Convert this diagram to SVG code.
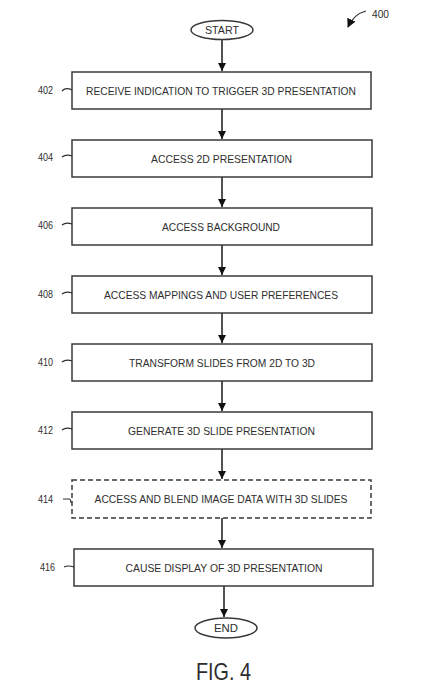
<svg xmlns="http://www.w3.org/2000/svg" width="433" height="700" viewBox="0 0 433 700">
<defs>
<style>
.box{fill:#fff;stroke:#3a3a3a;stroke-width:1.5}
.dash{fill:#fff;stroke:#3a3a3a;stroke-width:1.5;stroke-dasharray:5,3}
.t{font-family:"Liberation Sans",Arial,sans-serif;font-size:11px;fill:#2e2e2e;text-anchor:middle}
.n{font-family:"Liberation Sans",Arial,sans-serif;font-size:10.5px;fill:#2e2e2e}
.c{fill:none;stroke:#1a1a1a;stroke-width:1.5}
.l{fill:none;stroke:#2e2e2e;stroke-width:1.2}
</style>
<marker id="ah" viewBox="0 0 8 10" refX="8" refY="5" markerWidth="8" markerHeight="10" markerUnits="userSpaceOnUse" orient="auto">
<path d="M0,1 L8,5 L0,9 Z" fill="#111"/>
</marker>
<marker id="ah2" viewBox="0 0 10 10" refX="9" refY="5" markerWidth="9" markerHeight="9" markerUnits="userSpaceOnUse" orient="auto">
<path d="M0,0 L10,5 L0,10 Z" fill="#111"/>
</marker>
</defs>
<rect width="433" height="700" fill="#fff"/>

<g id="ref400">
<text class="n" x="372" y="18" textLength="17" lengthAdjust="spacingAndGlyphs">400</text>
<path class="l" d="M366,11 Q354,14 348,27" marker-end="url(#ah2)" stroke="#111" stroke-width="1.5"/>
</g>

<g id="connectors">
<path class="c" d="M222,39 V71" marker-end="url(#ah)"/>
<path class="c" d="M222,109 V139" marker-end="url(#ah)"/>
<path class="c" d="M222,177 V207" marker-end="url(#ah)"/>
<path class="c" d="M222,245 V275" marker-end="url(#ah)"/>
<path class="c" d="M222,313 V343" marker-end="url(#ah)"/>
<path class="c" d="M222,381 V411" marker-end="url(#ah)"/>
<path class="c" d="M222,449 V479" marker-end="url(#ah)"/>
<path class="c" d="M222,518 V548" marker-end="url(#ah)"/>
<path class="c" d="M224,586 V617" marker-end="url(#ah)"/>
</g>

<g id="start">
<ellipse class="box" cx="222" cy="30" rx="31" ry="9.5"/>
<text class="t" x="222" y="34" textLength="34" lengthAdjust="spacingAndGlyphs">START</text>
</g>

<g id="n402">
<rect class="box" x="72" y="72" width="299" height="37"/>
<text class="t" x="221" y="94.5" textLength="270" lengthAdjust="spacingAndGlyphs">RECEIVE INDICATION TO TRIGGER 3D PRESENTATION</text>
<text class="n" x="38" y="94" textLength="15" lengthAdjust="spacingAndGlyphs">402</text>
<path class="l" d="M62,91 Q66,87 72,90"/>
</g>

<g id="n404">
<rect class="box" x="72" y="140" width="300" height="37"/>
<text class="t" x="221.5" y="162.5" textLength="141" lengthAdjust="spacingAndGlyphs">ACCESS 2D PRESENTATION</text>
<text class="n" x="38" y="161" textLength="15" lengthAdjust="spacingAndGlyphs">404</text>
<path class="l" d="M62,157 Q66,154 72,156"/>
</g>

<g id="n406">
<rect class="box" x="72" y="208" width="300" height="37"/>
<text class="t" x="221" y="230.5" textLength="118" lengthAdjust="spacingAndGlyphs">ACCESS BACKGROUND</text>
<text class="n" x="38" y="229" textLength="15" lengthAdjust="spacingAndGlyphs">406</text>
<path class="l" d="M62,225 Q66,222 72,224"/>
</g>

<g id="n408">
<rect class="box" x="72" y="276" width="300" height="37"/>
<text class="t" x="221" y="298.5" textLength="234" lengthAdjust="spacingAndGlyphs">ACCESS MAPPINGS AND USER PREFERENCES</text>
<text class="n" x="38" y="298" textLength="15" lengthAdjust="spacingAndGlyphs">408</text>
<path class="l" d="M62,294 Q66,291 72,293"/>
</g>

<g id="n410">
<rect class="box" x="72" y="344" width="300" height="37"/>
<text class="t" x="222" y="366.5" textLength="186" lengthAdjust="spacingAndGlyphs">TRANSFORM SLIDES FROM 2D TO 3D</text>
<text class="n" x="38" y="366" textLength="15" lengthAdjust="spacingAndGlyphs">410</text>
<path class="l" d="M62,362 Q66,359 72,361"/>
</g>

<g id="n412">
<rect class="box" x="72" y="412" width="300" height="37"/>
<text class="t" x="221.5" y="434.5" textLength="187" lengthAdjust="spacingAndGlyphs">GENERATE 3D SLIDE PRESENTATION</text>
<text class="n" x="38" y="434" textLength="15" lengthAdjust="spacingAndGlyphs">412</text>
<path class="l" d="M62,430 Q66,427 72,429"/>
</g>

<g id="n414">
<rect class="dash" x="72" y="480" width="299" height="38"/>
<text class="t" x="221" y="502.5" textLength="253" lengthAdjust="spacingAndGlyphs">ACCESS AND BLEND IMAGE DATA WITH 3D SLIDES</text>
<text class="n" x="38" y="503" textLength="15" lengthAdjust="spacingAndGlyphs">414</text>
<path class="l" d="M63,499 H69 Q71,499 71,503"/>
</g>

<g id="n416">
<rect class="box" x="74" y="549" width="299" height="37"/>
<text class="t" x="224" y="571.5" textLength="197" lengthAdjust="spacingAndGlyphs">CAUSE DISPLAY OF 3D PRESENTATION</text>
<text class="n" x="40" y="571" textLength="15" lengthAdjust="spacingAndGlyphs">416</text>
<path class="l" d="M64,567 Q68,565 74,567"/>
</g>

<g id="end">
<ellipse class="box" cx="226" cy="628" rx="31" ry="10"/>
<text class="t" x="226" y="632" textLength="24" lengthAdjust="spacingAndGlyphs">END</text>
</g>

<text x="223.5" y="680" font-family="'Liberation Sans',Arial,sans-serif" font-size="24" fill="#2e2e2e" text-anchor="middle" textLength="55" lengthAdjust="spacingAndGlyphs">FIG. 4</text>
</svg>
